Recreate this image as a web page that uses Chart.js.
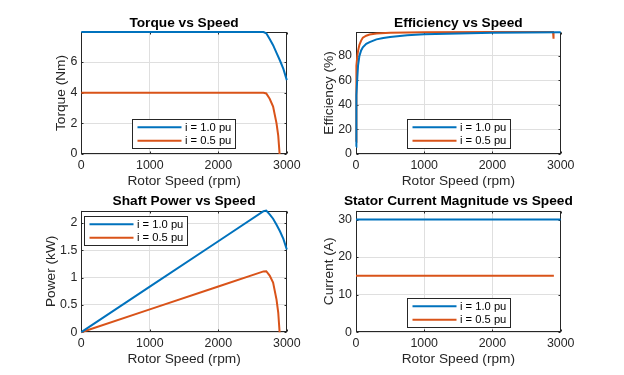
<!DOCTYPE html>
<html><head><meta charset="utf-8">
<script src="https://cdn.jsdelivr.net/npm/chart.js@4/dist/chart.umd.min.js"></script>
<style>
html,body{margin:0;padding:0;background:#fff;width:624px;height:375px;overflow:hidden}
canvas{position:absolute;left:0;top:0}
</style></head><body>
<canvas id="c1" width="624" height="375"></canvas>
<canvas id="c2" width="624" height="375"></canvas>
<canvas id="c3" width="624" height="375"></canvas>
<canvas id="c4" width="624" height="375"></canvas>
<script>
// ---------- data ----------
const seriesLabels = ['i = 1.0 pu', 'i = 0.5 pu'];
const speedTicks = [0, 1000, 2000, 3000];
const speedTickLabels = ['0', '1000', '2000', '3000'];

// Torque vs speed
const torqueSpeedA = [0, 2660, 2700, 2750, 2800, 2850, 2900, 2950, 3000];
const torqueA      = [7.96, 7.96, 7.88, 7.5, 7.1, 6.6, 6.1, 5.55, 4.82];
const torqueSpeedB = [0, 2660, 2700, 2750, 2800, 2850, 2875, 2895];
const torqueB      = [4.0, 4.0, 3.95, 3.6, 3.1, 2.0, 1.2, 0];
const torqueTicks = [0, 2, 4, 6];
const torqueTickLabels = ['0', '2', '4', '6'];
const torqueMax = 7.96;

// Efficiency vs speed
const effSpeedA = [0, 2, 5, 10, 20, 30, 50, 75, 100, 150, 200, 300, 400, 500, 750, 1000, 1500, 2000, 2500, 3000];
const effA      = [6, 20, 35, 48, 63, 72, 80, 84.5, 87, 89.8, 91.3, 93.5, 94.6, 95.5, 96.8, 97.6, 98.3, 98.8, 99.1, 99.3];
const effSpeedB = [0, 2, 5, 10, 20, 30, 50, 75, 100, 150, 200, 300, 500, 1000, 2000, 2700, 2888, 2895];
const effB      = [10, 40, 60, 72, 80, 84, 89, 92.5, 94.8, 96.5, 97.4, 98.3, 98.9, 99.2, 99.4, 99.4, 99.4, 94];
const effTicks = [0, 20, 40, 60, 80];
const effTickLabels = ['0', '20', '40', '60', '80'];
const effMax = 99.5;

// Shaft power vs speed (kW)
const powerSpeedA = [0, 1000, 2000, 2660, 2700, 2750, 2800, 2850, 2900, 2950, 3000];
const powerA      = [0, 0.834, 1.667, 2.217, 2.228, 2.16, 2.08, 1.97, 1.85, 1.71, 1.515];
const powerSpeedB = [0, 1000, 2000, 2660, 2700, 2750, 2800, 2850, 2875, 2895];
const powerB      = [0, 0.419, 0.838, 1.114, 1.117, 1.037, 0.909, 0.597, 0.361, 0];
const powerTicks = [0, 0.5, 1, 1.5, 2];
const powerTickLabels = ['0', '0.5', '1', '1.5', '2'];
const powerMax = 2.23;

// Stator current magnitude vs speed (A)
const currentSpeedA = [0, 3000];
const currentA      = [30, 30];
const currentSpeedB = [0, 2900];
const currentB      = [15, 15];
const currentTicks = [0, 10, 20, 30];
const currentTickLabels = ['0', '10', '20', '30'];
const currentMax = 32.4;

// ---------- styling ----------
const FONT = '"Liberation Sans", Arial, Helvetica, sans-serif';
const BLUE = '#0072BD', ORANGE = '#D95319';
const TXT = '#262626', AXC = '#262626', GRID = '#dfdfdf';
const TICK_SIZE = 12.4, LABEL_SIZE = 13.7, LEGEND_SIZE = 11.2;

function xy(xs, ys) { return xs.map((x, i) => ({ x: x, y: ys[i] })); }

function makeChart(id, o) {
  const lh = LABEL_SIZE * 1.2;
  const scaleLeft = o.yTitleX - lh / 2;
  const yW = o.area.l - scaleLeft;
  const xH = 35.2;
  const colors = [BLUE, ORANGE];

  const boxPlugin = {
    id: 'axbox_' + id,
    beforeDatasetsDraw(chart) {
      const a = chart.chartArea, c = chart.ctx;
      const xs = chart.scales.x, ys = chart.scales.y;
      c.save();
      c.strokeStyle = AXC; c.lineWidth = 1;
      const l = Math.round(a.left) + 0.5, t = Math.round(a.top) + 0.5;
      const r = Math.round(a.right) - 0.5, b = Math.round(a.bottom) - 0.5;
      c.strokeRect(l, t, r - l, b - t);
      // small inward tick marks on all four sides
      const tl = 2;
      c.beginPath();
      speedTicks.forEach(v => {
        const px = Math.round(xs.getPixelForValue(v)) + 0.5;
        c.moveTo(px, b); c.lineTo(px, b - tl);
        c.moveTo(px, t); c.lineTo(px, t + tl);
      });
      o.yTicks.forEach(v => {
        const py = Math.round(ys.getPixelForValue(v)) + 0.5;
        c.moveTo(l, py); c.lineTo(l + tl, py);
        c.moveTo(r, py); c.lineTo(r - tl, py);
      });
      c.stroke();
      c.restore();
    }
  };
  const titlePlugin = {
    id: 'ttl_' + id,
    afterDraw(chart) {
      const a = chart.chartArea, c = chart.ctx;
      c.save();
      c.font = 'bold ' + LABEL_SIZE + 'px ' + FONT;
      c.fillStyle = '#000';
      c.textAlign = 'center'; c.textBaseline = 'alphabetic';
      c.fillText(o.title, (a.left + a.right) / 2, o.titleBase);
      c.restore();
    }
  };
  const legendPlugin = {
    id: 'leg_' + id,
    afterDatasetsDraw(chart) {
      const c = chart.ctx, w = 103, h = 29;
      const l = Math.round(o.legend.cx - w / 2) + 0.5, t = Math.round(o.legend.cy - h / 2) + 0.5;
      c.save();
      c.fillStyle = '#fff'; c.fillRect(l, t, w, h);
      c.strokeStyle = AXC; c.lineWidth = 1; c.strokeRect(l, t, w, h);
      c.font = LEGEND_SIZE + 'px ' + FONT;
      c.textAlign = 'left'; c.textBaseline = 'middle';
      chart.data.datasets.forEach((d, i) => {
        const y = t + h / 2 - 6.75 + i * 13.5;
        c.strokeStyle = d.borderColor; c.lineWidth = 2;
        c.beginPath(); c.moveTo(l + 5, y); c.lineTo(l + 49, y); c.stroke();
        c.fillStyle = '#000';
        c.fillText(d.label, l + 52.5, y + 0.5);
      });
      c.restore();
    }
  };

  return new Chart(document.getElementById(id), {
    type: 'line',
    data: {
      datasets: o.series.map((s, i) => ({
        label: seriesLabels[i], data: xy(s[0], s[1]),
        borderColor: colors[i], backgroundColor: colors[i],
        borderWidth: 2, pointRadius: 0, fill: false, tension: 0, clip: false
      }))
    },
    options: {
      responsive: false, animation: false, devicePixelRatio: 1,
      events: [],
      layout: { padding: { left: scaleLeft, top: o.area.t, right: 624 - o.area.r, bottom: 375 - o.area.b - xH } },
      plugins: { legend: { display: false }, title: { display: false }, tooltip: { enabled: false } },
      scales: {
        x: {
          type: 'linear', min: 0, max: 3000,
          afterBuildTicks: s => { s.ticks = speedTicks.map(v => ({ value: v })); },
          afterFit: s => { s.height = xH; },
          ticks: { callback: (v, i) => speedTickLabels[i], font: { family: FONT, size: TICK_SIZE }, color: TXT, padding: 4, maxRotation: 0, autoSkip: false },
          grid: { color: GRID, drawTicks: false, lineWidth: 1 },
          border: { display: false },
          title: { display: true, text: 'Rotor Speed (rpm)', font: { family: FONT, size: LABEL_SIZE }, color: TXT, padding: 0 }
        },
        y: {
          type: 'linear', min: 0, max: o.yMax,
          afterBuildTicks: s => { s.ticks = o.yTicks.map(v => ({ value: v })); },
          afterFit: s => { s.width = yW; },
          ticks: { callback: (v, i) => o.yTickLabels[i], font: { family: FONT, size: TICK_SIZE }, color: TXT, padding: 4, autoSkip: false },
          grid: { color: GRID, drawTicks: false, lineWidth: 1 },
          border: { display: false },
          title: { display: true, text: o.yTitle, font: { family: FONT, size: LABEL_SIZE }, color: TXT, padding: 0 }
        }
      }
    },
    plugins: [boxPlugin, legendPlugin, titlePlugin]
  });
}

makeChart('c1', {
  area: { l: 81.3, t: 32, r: 286.8, b: 154 }, yTitleX: 61, titleBase: 26.5,
  title: 'Torque vs Speed', yTitle: 'Torque (Nm)',
  yMax: torqueMax, yTicks: torqueTicks, yTickLabels: torqueTickLabels,
  legend: { cx: 183.7, cy: 133.7 },
  series: [[torqueSpeedA, torqueA], [torqueSpeedB, torqueB]]
});
makeChart('c2', {
  area: { l: 356, t: 32, r: 560.7, b: 154 }, yTitleX: 329, titleBase: 26.5,
  title: 'Efficiency vs Speed', yTitle: 'Efficiency (%)',
  yMax: effMax, yTicks: effTicks, yTickLabels: effTickLabels,
  legend: { cx: 458.3, cy: 133.7 },
  series: [[effSpeedA, effA], [effSpeedB, effB]]
});
makeChart('c3', {
  area: { l: 81.3, t: 210.5, r: 286.8, b: 332.2 }, yTitleX: 51, titleBase: 205.3,
  title: 'Shaft Power vs Speed', yTitle: 'Power (kW)',
  yMax: powerMax, yTicks: powerTicks, yTickLabels: powerTickLabels,
  legend: { cx: 135.3, cy: 230.2 },
  series: [[powerSpeedA, powerA], [powerSpeedB, powerB]]
});
makeChart('c4', {
  area: { l: 356, t: 210.5, r: 560.7, b: 332.2 }, yTitleX: 329, titleBase: 205.3,
  title: 'Stator Current Magnitude vs Speed', yTitle: 'Current (A)',
  yMax: currentMax, yTicks: currentTicks, yTickLabels: currentTickLabels,
  legend: { cx: 458, cy: 312 },
  series: [[currentSpeedA, currentA], [currentSpeedB, currentB]]
});
</script>
</body></html>
